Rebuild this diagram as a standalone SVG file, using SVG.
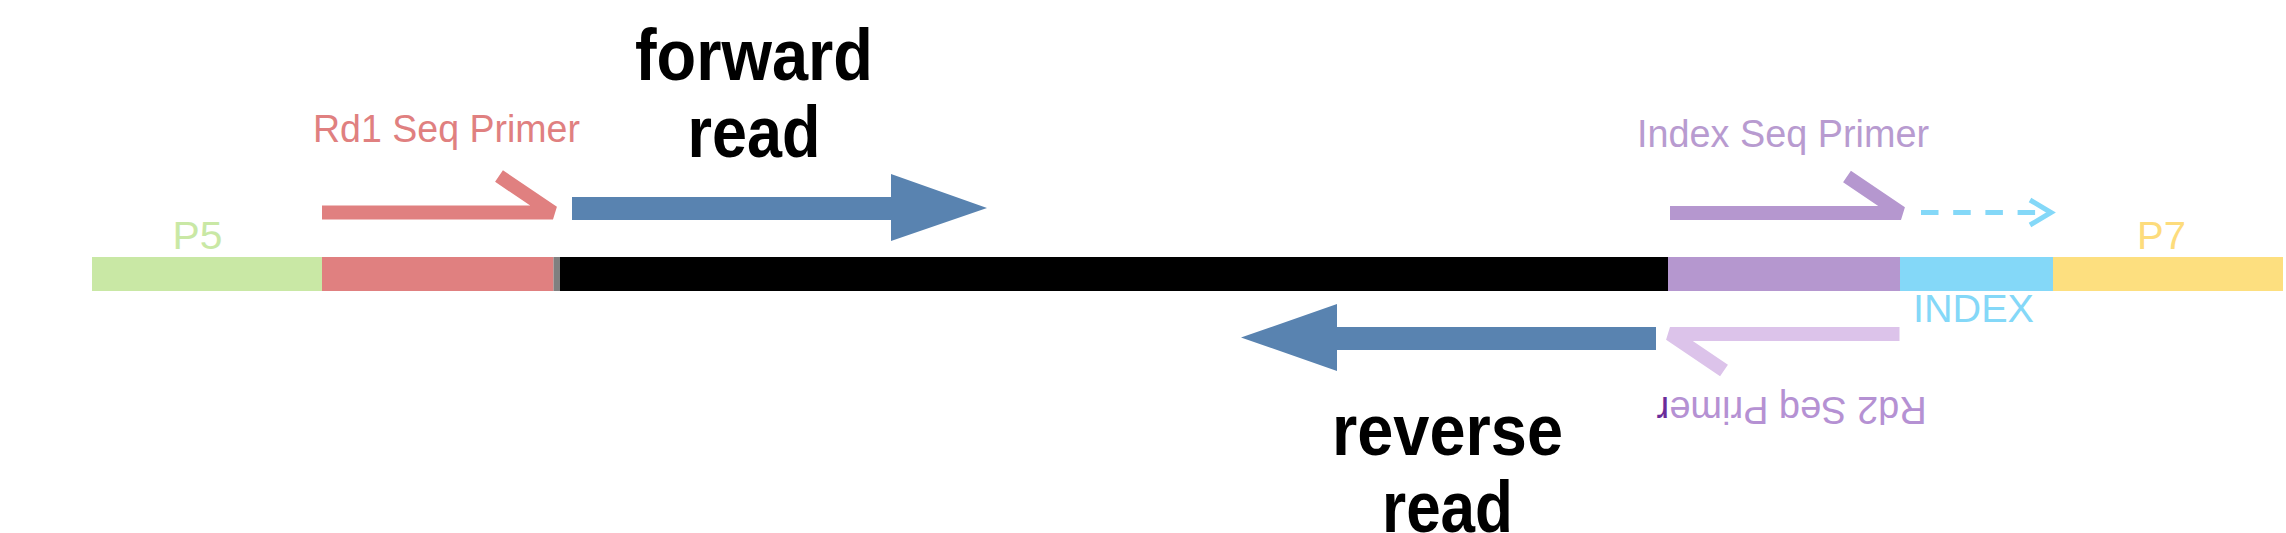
<svg xmlns="http://www.w3.org/2000/svg" width="2286" height="533" viewBox="0 0 2286 533">
<style>
  text { font-family: "Liberation Sans", Arial, sans-serif; }
  .lbl { font-size: 38px; }
  .big { font-size: 72px; font-weight: bold; fill: #000; text-anchor: middle; }
  .primer { fill: none; stroke-width: 14; stroke-linejoin: bevel; stroke-linecap: butt; }
  .read { fill: #5983b0; }
</style>
<rect width="2286" height="533" fill="#ffffff"/>

<g id="construct">
  <g id="p5"><rect x="92" y="257" width="230" height="34" fill="#c9e8a5"/><text class="lbl" x="172.5" y="249" font-size="46" textLength="50" lengthAdjust="spacingAndGlyphs" fill="#c9e8a5">P5</text></g>
  <g id="rd1-site"><rect x="322" y="257" width="231.5" height="34" fill="#e08080"/><rect x="553.5" y="257" width="6.5" height="34" fill="#808080"/></g>
  <g id="insert"><rect x="560" y="257" width="1108" height="34" fill="#000000"/></g>
  <g id="index-primer-site"><rect x="1668" y="257" width="232" height="34" fill="#b597cf"/></g>
  <g id="index"><rect x="1900" y="257" width="153" height="34" fill="#84d8f8"/><text class="lbl" x="1913" y="322" font-size="39" textLength="121" lengthAdjust="spacingAndGlyphs" fill="#84d8f8">INDEX</text></g>
  <g id="p7"><rect x="2053" y="257" width="230" height="34" fill="#fddf7f"/><text class="lbl" x="2137" y="249" font-size="45" textLength="49" lengthAdjust="spacingAndGlyphs" fill="#fddc7c">P7</text></g>
</g>

<g id="rd1-primer">
  <polyline class="primer" points="322,212.5 553,212.5 499,176" stroke="#e08080"/>
  <text class="lbl" x="313" y="141.5" font-size="39" textLength="267" lengthAdjust="spacingAndGlyphs" fill="#e08080">Rd1 Seq Primer</text>
</g>

<g id="index-seq-primer">
  <polyline class="primer" points="1670,213 1901,213 1847,176.5" stroke="#b597cf" stroke-width="13"/>
  <text class="lbl" x="1637" y="147" textLength="292" lengthAdjust="spacingAndGlyphs" fill="#b89bd0">Index Seq Primer</text>
</g>

<g id="rd2-primer">
  <polyline class="primer" points="1899.5,334 1670,334 1724,370.5" stroke="#dcc3ea"/>
  <text class="lbl" font-size="36" transform="translate(1926.7,396.7) rotate(180)" x="0" y="0" textLength="270" lengthAdjust="spacingAndGlyphs" fill="#b591d3">Rd2 Seq Prime<tspan fill="#6a2c9a">r</tspan></text>
</g>

<g id="forward-read">
  <polygon class="read" points="572,197 891,197 891,174 987,208 891,241 891,220 572,220"/>
  <text class="big" x="754" y="80" textLength="238" lengthAdjust="spacingAndGlyphs">forward</text>
  <text class="big" x="754" y="157" textLength="133" lengthAdjust="spacingAndGlyphs">read</text>
</g>

<g id="reverse-read">
  <polygon class="read" points="1656,327 1337,327 1337,304 1241,337.5 1337,371 1337,350 1656,350"/>
  <text class="big" x="1447.5" y="455" textLength="231" lengthAdjust="spacingAndGlyphs">reverse</text>
  <text class="big" x="1447.5" y="532" textLength="131" lengthAdjust="spacingAndGlyphs">read</text>
</g>

<g id="connectors">
  <line x1="1921" y1="212.5" x2="2049" y2="212.5" stroke="#84d8f8" stroke-width="5" stroke-dasharray="17.5 14.7"/>
  <polyline points="2030,200 2051,212.5 2030,225" fill="none" stroke="#84d8f8" stroke-width="5"/>
</g>
</svg>
